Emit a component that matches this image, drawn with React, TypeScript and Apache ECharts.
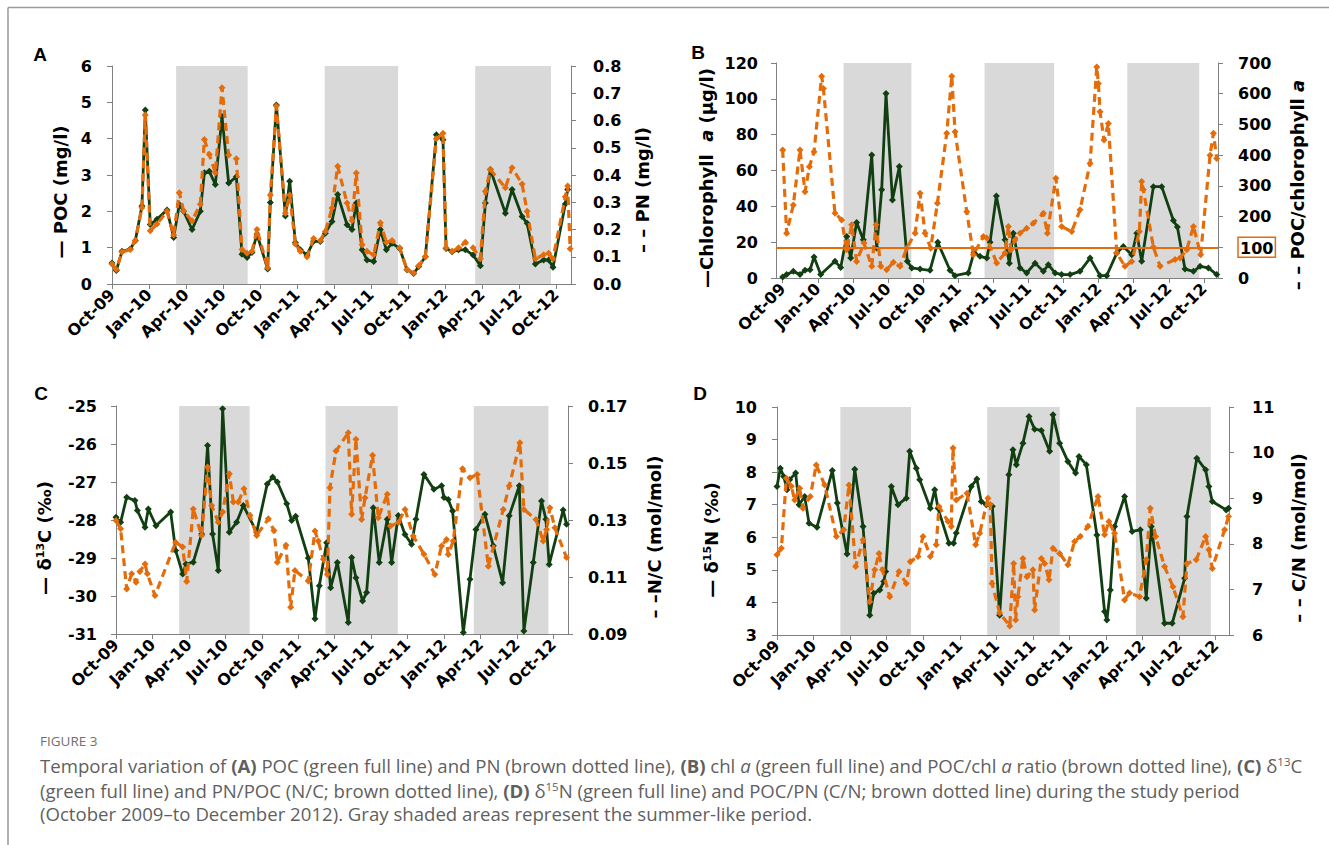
import React, { useEffect, useRef } from "react";
import * as echarts from "echarts";

// ---- axis ticks (months since 1 Oct 2009) ----
const tickMonths = [0, 3, 6, 9, 12, 15, 18, 21, 24, 27, 30, 33, 36];
const tickLabels = ["Oct-09", "Jan-10", "Apr-10", "Jul-10", "Oct-10", "Jan-11", "Apr-11", "Jul-11", "Oct-11", "Jan-12", "Apr-12", "Jul-12", "Oct-12"];
const summerPeriods = [[5.2, 11.0], [17.25, 23.2], [29.45, 35.6]];

// ---- Panel A: POC (mg/l) and PN (mg/l) ----
const aMonths = [0, 0.35, 0.81, 1.48, 1.89, 2.43, 2.7, 3.1, 3.65, 4.46, 5.0, 5.46, 5.81, 6.49, 7.16, 7.49, 7.89, 8.38, 8.92, 9.46, 10.08, 10.54, 10.95, 11.35, 11.76, 12.62, 12.84, 13.33, 14.06, 14.41, 14.87, 15.27, 15.81, 16.35, 16.89, 17.3, 17.84, 18.3, 19.06, 19.46, 19.81, 20.28, 20.68, 21.22, 21.76, 22.25, 22.71, 23.33, 23.92, 24.46, 24.87, 25.41, 26.3, 26.84, 27.09, 27.58, 28.11, 28.65, 29.28, 29.87, 30.28, 30.68, 31.9, 32.44, 33.25, 33.66, 34.33, 35.0, 35.41, 35.76, 36.76, 36.95, 37.15];
const aPOC = [0.58, 0.37, 0.9, 0.96, 1.19, 2.15, 4.79, 1.64, 1.78, 2.04, 1.28, 2.19, 2.0, 1.5, 2.0, 3.06, 3.1, 2.74, 4.61, 2.78, 2.95, 0.82, 0.73, 0.87, 1.37, 0.41, 2.24, 4.93, 1.87, 2.83, 1.14, 0.94, 0.8, 1.18, 1.17, 1.4, 1.72, 2.46, 1.63, 1.5, 2.23, 0.94, 0.66, 0.62, 1.5, 0.94, 1.12, 0.98, 0.39, 0.29, 0.48, 0.75, 4.11, 3.97, 0.98, 0.89, 0.94, 0.94, 0.8, 0.5, 2.23, 3.15, 1.95, 2.6, 1.86, 1.67, 0.55, 0.66, 0.66, 0.46, 2.2, 2.6, null];
const aPN = [0.073, 0.053, 0.117, 0.127, 0.16, 0.28, 0.62, 0.195, 0.22, 0.267, 0.18, 0.335, 0.267, 0.232, 0.293, 0.53, 0.475, 0.408, 0.72, 0.473, 0.46, 0.127, 0.113, 0.12, 0.2, 0.06, 0.327, 0.653, 0.26, 0.327, 0.147, 0.12, 0.1, 0.167, 0.16, 0.193, 0.279, 0.432, 0.297, 0.233, 0.407, 0.144, 0.12, 0.107, 0.225, 0.153, 0.16, 0.133, 0.053, 0.04, 0.067, 0.1, 0.533, 0.553, 0.133, 0.12, 0.133, 0.153, 0.133, 0.093, 0.34, 0.42, 0.353, 0.427, 0.367, 0.267, 0.093, 0.107, 0.113, 0.093, 0.32, 0.36, 0.129];

// ---- Panel B: chlorophyll a (µg/l) and POC/chl a ----
const bChlMonths = [0, 0.34, 0.91, 1.48, 1.91, 2.34, 2.68, 3.25, 4.47, 4.96, 5.47, 5.81, 6.32, 6.89, 7.61, 8.03, 8.46, 8.83, 9.38, 9.97, 10.65, 11.03, 11.74, 12.59, 13.25, 14.3, 14.72, 15.86, 16.35, 16.86, 17.44, 17.72, 18.26, 19.0, 19.37, 19.71, 20.28, 20.85, 21.57, 22.28, 22.7, 23.28, 23.84, 24.56, 25.41, 26.27, 27.12, 27.69, 28.55, 29.11, 29.83, 30.26, 30.68, 31.68, 32.39, 33.39, 33.73, 34.38, 35.1, 35.67, 36.38, 37.09];
const bChl = [0.5, 1.9, 3.7, 1.9, 4.3, 4.6, 11.7, 1.9, 9.3, 5.9, 23.2, 11.1, 31.0, 21.3, 68.6, 16.7, 49.2, 103, 43.6, 62.2, 9.3, 5.6, 5.0, 4.3, 19.9, 4.3, 1.3, 2.8, 14.3, 12.1, 11.1, 19.9, 45.8, 21.3, 8.3, 25.0, 5.6, 2.8, 8.3, 3.7, 7.4, 2.8, 1.9, 1.9, 3.7, 11.1, 1.3, 1.3, 13.9, 17.6, 13.0, 25.0, 9.3, 51.0, 51.0, 32.1, 28.4, 5.0, 3.7, 6.5, 5.6, 1.9];
const bRatioMonths = [0, 0.34, 0.91, 1.48, 1.91, 2.28, 2.68, 3.33, 3.48, 4.47, 5.04, 5.47, 5.9, 6.32, 6.95, 7.61, 7.98, 8.38, 8.89, 9.46, 10.03, 10.6, 11.32, 11.74, 12.17, 12.65, 13.22, 14.02, 14.45, 14.73, 15.73, 16.3, 17.15, 17.44, 18.29, 19.0, 19.29, 19.5, 19.85, 20.28, 20.85, 21.42, 22.28, 22.62, 23.34, 23.84, 24.7, 25.41, 26.27, 26.84, 26.98, 27.12, 27.46, 27.83, 28.55, 29.25, 29.83, 30.48, 30.68, 30.82, 31.68, 32.25, 33.53, 33.96, 34.53, 35.1, 35.72, 36.52, 36.81, 37.09];
const bRatio = [417, 146, 238, 417, 281, 362, 411, 657, 617, 211, 189, 92, 173, 54, 114, 38, 173, 38, 27, 51, 38, 97, 146, 276, 146, 97, 243, 471, 657, 476, 216, 76, 135, 130, 49, 81, 168, 92, 124, 146, 162, 178, 211, 146, 325, 168, 151, 222, 373, 687, 633, 541, 449, 503, 81, 38, 54, 151, 314, 287, 101, 38, 60, 65, 92, 168, 76, 400, 471, 389];
const bRatioReference = 100;

// ---- Panel C: δ13C (‰) and N/C (mol/mol) ----
const cD13CMonths = [0, 0.38, 0.88, 1.56, 1.76, 2.39, 2.66, 3.29, 4.5, 4.91, 5.49, 5.76, 6.36, 7.05, 7.54, 7.95, 8.42, 8.78, 9.33, 9.93, 10.48, 11.58, 12.45, 12.9, 13.28, 14.05, 14.46, 14.79, 15.83, 16.38, 16.74, 17.34, 17.67, 18.22, 19.12, 19.4, 19.75, 20.3, 20.63, 21.18, 21.67, 22.33, 22.69, 23.24, 23.79, 24.33, 24.69, 25.35, 26.17, 26.8, 27.0, 27.35, 27.71, 28.59, 29.14, 29.63, 30.37, 31.06, 31.83, 32.37, 33.2, 33.58, 34.35, 35.03, 35.39, 35.66, 36.81, 37.09];
const cD13C = [-27.93, -28.06, -27.4, -27.49, -27.75, -28.19, -27.71, -28.15, -27.79, -28.8, -29.42, -29.16, -29.11, -28.37, -26.04, -28.37, -29.33, -25.07, -28.32, -28.06, -27.62, -28.32, -27.05, -26.87, -27.0, -27.57, -28.01, -27.9, -29.0, -30.6, -29.73, -28.6, -29.78, -29.12, -30.7, -28.99, -29.52, -30.13, -29.91, -27.68, -29.12, -27.98, -29.12, -27.88, -28.38, -28.64, -27.98, -26.8, -27.19, -27.1, -27.41, -27.46, -27.76, -30.96, -29.56, -28.25, -27.85, -28.68, -29.65, -27.89, -27.1, -30.92, -29.12, -27.5, -27.98, -29.17, -27.74, -28.11];
const cNCMonths = [0, 0.38, 0.88, 1.29, 1.65, 1.97, 2.39, 2.58, 3.21, 4.91, 5.49, 5.82, 6.36, 7.05, 7.54, 7.87, 8.42, 8.78, 9.33, 9.66, 10.07, 10.53, 11.03, 11.58, 12.54, 13.0, 13.28, 13.99, 14.38, 14.73, 15.83, 16.38, 16.65, 17.07, 17.4, 17.61, 18.11, 19.12, 19.4, 19.75, 20.22, 20.5, 21.12, 21.59, 22.33, 22.6, 23.24, 23.79, 24.47, 25.35, 26.25, 26.8, 27.21, 27.35, 27.76, 28.53, 29.14, 29.74, 30.65, 31.88, 32.37, 33.25, 33.58, 34.57, 35.17, 35.45, 35.72, 36.13, 37.09];
const cNC = [0.1298, 0.1269, 0.1058, 0.1111, 0.1082, 0.1119, 0.1146, 0.1111, 0.1035, 0.1222, 0.1205, 0.1084, 0.1339, 0.1246, 0.1486, 0.1351, 0.1292, 0.1328, 0.1462, 0.1363, 0.1363, 0.141, 0.1316, 0.1246, 0.1304, 0.1263, 0.1152, 0.1211, 0.0994, 0.1123, 0.1086, 0.1261, 0.1226, 0.1162, 0.1109, 0.1413, 0.1542, 0.1606, 0.132, 0.1583, 0.1302, 0.1378, 0.1527, 0.1308, 0.139, 0.1279, 0.1291, 0.1337, 0.1244, 0.118, 0.1109, 0.1209, 0.1232, 0.1179, 0.1226, 0.148, 0.1448, 0.146, 0.1138, 0.1337, 0.1419, 0.1571, 0.1337, 0.1302, 0.1226, 0.1267, 0.1343, 0.1273, 0.1168];

// ---- Panel D: δ15N (‰) and C/N (mol/mol) ----
const dD15NMonths = [0, 0.27, 0.55, 0.82, 1.04, 1.53, 1.81, 2.27, 2.63, 3.28, 4.54, 4.95, 5.75, 6.38, 7.06, 7.61, 7.94, 8.43, 8.76, 8.92, 9.38, 9.93, 10.61, 10.89, 11.43, 11.71, 12.58, 12.94, 13.21, 14.11, 14.49, 14.71, 15.94, 16.4, 16.76, 17.17, 17.67, 18.27, 19.02, 19.36, 19.64, 20.18, 20.68, 21.14, 21.69, 22.37, 22.65, 23.19, 23.87, 24.5, 24.78, 25.38, 26.25, 26.88, 27.07, 27.35, 27.7, 28.52, 29.14, 29.81, 30.3, 30.71, 31.8, 32.43, 33.45, 33.64, 34.45, 35.17, 35.44, 35.72, 36.86, 37.05];
const dD15N = [7.56, 8.12, 7.87, 7.46, 7.77, 7.97, 7.0, 7.25, 6.43, 6.31, 8.05, 7.05, 5.49, 8.09, 6.33, 3.61, 4.28, 4.38, 4.64, 4.95, 7.56, 7.0, 7.2, 8.64, 8.12, 7.77, 6.89, 7.46, 6.89, 5.82, 5.82, 6.13, 7.56, 7.79, 7.1, 7.0, 6.95, 3.61, 7.92, 8.69, 8.23, 8.89, 9.71, 9.32, 9.28, 8.64, 9.76, 8.89, 8.33, 7.97, 8.48, 8.23, 6.07, 3.72, 3.46, 4.38, 6.33, 7.25, 6.18, 6.23, 4.13, 6.33, 3.36, 3.36, 4.74, 6.64, 8.43, 8.07, 7.56, 7.1, 6.84, 6.89];
const dCNMonths = [0, 0.36, 0.77, 1.18, 1.45, 1.86, 2.13, 2.73, 3.22, 3.91, 4.87, 5.47, 5.91, 6.45, 7.06, 7.61, 8.02, 8.37, 8.65, 9.25, 10.01, 10.61, 10.94, 11.57, 11.98, 12.58, 13.07, 13.29, 14.03, 14.3, 14.44, 14.71, 15.59, 16.3, 16.63, 17.31, 17.5, 17.65, 18.27, 19.1, 19.42, 19.58, 19.77, 20.18, 20.51, 21.0, 21.14, 21.69, 21.96, 22.32, 22.65, 23.19, 23.87, 24.42, 24.88, 25.51, 26.34, 26.88, 27.24, 27.7, 28.52, 28.93, 29.75, 30.3, 30.63, 31.07, 31.8, 32.49, 33.31, 33.64, 34.4, 35.17, 35.44, 35.72, 36.73, 37.05];
const dCN = [7.76, 7.9, 9.44, 9.26, 8.96, 9.22, 8.78, 9.04, 9.73, 9.29, 8.16, 8.31, 9.29, 7.5, 8.09, 6.73, 7.43, 7.79, 7.43, 6.84, 7.39, 7.13, 7.61, 7.72, 8.16, 7.72, 7.98, 8.82, 8.49, 8.38, 10.1, 8.96, 9.11, 7.98, 8.23, 9.0, 8.86, 7.13, 6.48, 6.2, 7.57, 6.33, 6.84, 7.68, 7.28, 7.43, 6.55, 7.68, 7.57, 7.21, 7.9, 7.79, 7.54, 8.05, 8.16, 8.38, 9.04, 8.2, 8.49, 8.23, 6.77, 6.92, 6.84, 7.65, 8.78, 8.16, 7.5, 7.06, 6.4, 7.57, 7.65, 8.16, 7.87, 7.46, 8.31, 8.6];

const FONT = "DejaVu Sans";
const CAP_FONT = "Open Sans";
const CAP_SIZE = 18.6;
const GREEN = "#113f11";
const ORANGE = "#E46C0A";
const AXIS_GRAY = "#808080";
const SHADE = "#d9d9d9";

const pair = (xs: number[], ys: (number | null)[]) => xs.map((x, i) => [x, ys[i]]);

function xAxisOf(gridIndex: number, min: number, max: number) {
  return {
    type: "value",
    gridIndex,
    min,
    max,
    axisLine: { show: true, onZero: false, lineStyle: { color: AXIS_GRAY, width: 1 } },
    axisTick: { show: true, length: 5, customValues: tickMonths, lineStyle: { color: AXIS_GRAY } },
    axisLabel: {
      customValues: tickMonths,
      rotate: 45,
      margin: 8,
      color: "#000",
      fontFamily: FONT,
      fontWeight: "bold",
      fontSize: 16,
      formatter: (v: number) => tickLabels[Math.round(v / 3)] ?? "",
    },
    splitLine: { show: false },
  };
}

function yAxisOf(gridIndex: number, position: string, min: number, max: number, interval: number, margin: number, formatter?: any, rich?: any) {
  return {
    type: "value",
    gridIndex,
    position,
    min,
    max,
    interval,
    axisLine: { show: true, onZero: false, lineStyle: { color: AXIS_GRAY, width: 1 } },
    axisTick: { show: true, length: 5, lineStyle: { color: AXIS_GRAY } },
    splitLine: { show: false },
    axisLabel: {
      margin,
      color: "#000",
      fontFamily: FONT,
      fontWeight: "bold",
      fontSize: 16,
      formatter,
      rich,
    },
  };
}

const shadeArea = {
  silent: true,
  itemStyle: { color: SHADE },
  data: summerPeriods.map(([a, b]) => [{ xAxis: a }, { xAxis: b }]),
};

function greenSeries(name: string, xi: number, yi: number, data: any[]) {
  return {
    name,
    type: "line",
    xAxisIndex: xi,
    yAxisIndex: yi,
    data,
    symbol: "diamond",
    symbolSize: 7,
    showSymbol: true,
    lineStyle: { color: GREEN, width: 2.8 },
    itemStyle: { color: GREEN },
    z: 2,
    markArea: shadeArea,
  };
}

function orangeSeries(name: string, xi: number, yi: number, data: any[], extra: any = {}) {
  return {
    name,
    type: "line",
    xAxisIndex: xi,
    yAxisIndex: yi,
    data,
    symbol: "diamond",
    symbolSize: 7,
    showSymbol: true,
    lineStyle: { color: ORANGE, width: 3.2, type: [8, 5] },
    itemStyle: { color: ORANGE },
    z: 3,
    ...extra,
  };
}

const titleBase = { fontFamily: FONT, fontWeight: "bold", fontSize: 18, fill: "#000" };
const titleRich = {
  g: { fontFamily: FONT, fontWeight: "bold", fontSize: 18, color: GREEN },
  o: { fontFamily: FONT, fontWeight: "bold", fontSize: 18, color: "#F08A3C" },
  i: { fontFamily: FONT, fontWeight: "bold", fontStyle: "italic", fontSize: 18, color: "#000" },
  sup: { fontFamily: FONT, fontWeight: "bold", fontSize: 11, color: "#000", verticalAlign: "top", padding: [0, 0, 6, 0] },
  t: { fontFamily: FONT, fontWeight: "bold", fontSize: 18, color: "#000" },
};

function axisTitle(x: number, y: number, text: string) {
  return {
    type: "text",
    x,
    y,
    rotation: Math.PI / 2,
    style: {
      ...titleBase,
      text,
      rich: titleRich,
      align: "center",
      verticalAlign: "middle",
      textAlign: "center",
      textVerticalAlign: "middle",
    },
  };
}

function panelLetter(x: number, y: number, text: string) {
  return {
    type: "text",
    x,
    y,
    style: { text, fontFamily: "Liberation Sans", fontWeight: "bold", fontSize: 19, fill: "#000", align: "center", verticalAlign: "middle", textAlign: "center", textVerticalAlign: "middle" },
  };
}

const capRich = {
  n: { fontFamily: CAP_FONT, fontSize: CAP_SIZE, color: "#5f5f5f" },
  b: { fontFamily: CAP_FONT, fontSize: CAP_SIZE, fontWeight: "bold", color: "#4a4a4a" },
  i: { fontFamily: CAP_FONT, fontSize: CAP_SIZE, fontStyle: "italic", color: "#5f5f5f" },
  sup: { fontFamily: CAP_FONT, fontSize: 11.5, color: "#5f5f5f", verticalAlign: "top", padding: [0, 0, 8, 0] },
};

function captionLine(y: number, text: string) {
  return {
    type: "text",
    x: 40,
    y,
    style: { text, rich: capRich, fontFamily: CAP_FONT, fontSize: CAP_SIZE, fill: "#5f5f5f", align: "left", verticalAlign: "middle", textAlign: "left", textVerticalAlign: "middle" },
  };
}

function buildOption() {
  return {
    animation: false,
    backgroundColor: "#ffffff",
    grid: [
      { left: 112, top: 66, width: 459, height: 218 },
      { left: 776, top: 63, width: 442, height: 215 },
      { left: 116, top: 406, width: 452, height: 228 },
      { left: 777, top: 407, width: 452, height: 228 },
    ],
    xAxis: [
      xAxisOf(0, 0, 37.22),
      xAxisOf(1, -0.57, 37.2),
      xAxisOf(2, 0, 37.21),
      xAxisOf(3, 0, 37.09),
    ],
    yAxis: [
      yAxisOf(0, "left", 0, 6, 1, 20),
      yAxisOf(0, "right", 0, 0.8, 0.1, 22, (v: number) => v.toFixed(1)),
      yAxisOf(1, "left", 0, 120, 20, 18),
      yAxisOf(
        1,
        "right",
        0,
        700,
        100,
        20,
        (v: number) => (Math.round(v) === bRatioReference ? "{box|" + Math.round(v) + "}" : String(Math.round(v))),
        {
          box: {
            borderColor: ORANGE,
            borderWidth: 1.5,
            padding: [3, 2, 1, 2],
            fontFamily: FONT,
            fontWeight: "bold",
            fontSize: 16,
            color: "#000",
          },
        }
      ),
      yAxisOf(2, "left", -31, -25, 1, 19),
      yAxisOf(2, "right", 0.09, 0.17, 0.02, 20, (v: number) => v.toFixed(2)),
      yAxisOf(3, "left", 3, 10, 1, 20),
      yAxisOf(3, "right", 6, 11, 1, 23),
    ],
    series: [
      greenSeries("POC", 0, 0, pair(aMonths, aPOC)),
      orangeSeries("PN", 0, 1, pair(aMonths, aPN)),
      greenSeries("Chlorophyll a", 1, 2, pair(bChlMonths, bChl)),
      orangeSeries("POC/chlorophyll a", 1, 3, pair(bRatioMonths, bRatio), {
        markLine: {
          silent: true,
          symbol: ["none", "none"],
          label: { show: false },
          lineStyle: { color: ORANGE, width: 2, type: "solid" },
          data: [{ yAxis: bRatioReference }],
        },
      }),
      greenSeries("δ13C", 2, 4, pair(cD13CMonths, cD13C)),
      orangeSeries("N/C", 2, 5, pair(cNCMonths, cNC)),
      greenSeries("δ15N", 3, 6, pair(dD15NMonths, dD15N)),
      orangeSeries("C/N", 3, 7, pair(dCNMonths, dCN)),
    ],
    graphic: [
      { type: "line", shape: { x1: 8, y1: 7.5, x2: 1329, y2: 7.5 }, style: { stroke: "#9a9a9a", lineWidth: 1.5 } },
      { type: "line", shape: { x1: 8, y1: 7.5, x2: 8, y2: 845 }, style: { stroke: "#9a9a9a", lineWidth: 1.5 } },
      panelLetter(40, 54, "A"),
      panelLetter(698, 52, "B"),
      panelLetter(41, 393, "C"),
      panelLetter(700, 393, "D"),
      axisTitle(60, 192, "{g|—} POC (mg/l)"),
      axisTitle(642, 190, "{o|– –} PN (mg/l)"),
      axisTitle(706, 178, "{g|—}Chlorophyll  {i|a} (µg/l)"),
      axisTitle(1297, 185, "{o|– –} POC/chlorophyll {i|a}"),
      axisTitle(44, 538, "{g|—} δ{sup|13}C (‰)"),
      axisTitle(654, 537, "{o|– –}N/C (mol/mol)"),
      axisTitle(711, 540, "{g|—} δ{sup|15}N (‰)"),
      axisTitle(1298, 538, "{o|– –} C/N (mol/mol)"),
      {
        type: "text",
        x: 40,
        y: 741,
        style: { text: "FIGURE 3", fontFamily: CAP_FONT, fontSize: 13.5, fill: "#707070", align: "left", verticalAlign: "middle", textAlign: "left", textVerticalAlign: "middle" },
      },
      captionLine(765, "{n|Temporal variation of }{b|(A)}{n| POC (green full line) and PN (brown dotted line), }{b|(B)}{n| chl }{i|a}{n| (green full line) and POC/chl }{i|a}{n| ratio (brown dotted line), }{b|(C)}{n| δ}{sup|13}{n|C}"),
      captionLine(790, "{n|(green full line) and PN/POC (N/C; brown dotted line), }{b|(D)}{n| δ}{sup|15}{n|N (green full line) and POC/PN (C/N; brown dotted line) during the study period}"),
      captionLine(813, "{n|(October 2009–to December 2012). Gray shaded areas represent the summer-like period.}"),
    ],
  };
}

export default function App() {
  const ref = useRef<HTMLDivElement>(null);
  useEffect(() => {
    if (!ref.current) return;
    const chart = echarts.init(ref.current, null, { renderer: "svg" });
    chart.setOption(buildOption() as any);
    return () => chart.dispose();
  }, []);
  return (
    <div style={{ position: "absolute", left: 0, top: 0, width: 1329, height: 845, background: "#fff" }}>
      <div ref={ref} style={{ width: 1329, height: 845 }} />
    </div>
  );
}
